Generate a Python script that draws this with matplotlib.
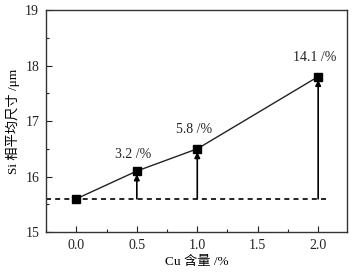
import matplotlib.pyplot as plt
from matplotlib.ticker import MultipleLocator

plt.rcParams['font.family'] = ['Liberation Serif', 'Noto Sans CJK SC']

cu = [0.0, 0.5, 1.0, 2.0]
size = [15.6, 16.1, 16.5, 17.8]
labels = ['3.2 /%', '5.8 /%', '14.1 /%']
label_y = [16.4, 16.85, 18.15]
base = 15.6

fig = plt.figure(figsize=(3.55, 2.77), dpi=100)
ax = fig.add_axes([0.13, 0.162, 0.848, 0.802])

ax.plot(cu, size, color='#222222', lw=1.0, marker='s', ms=5.5, mfc='black', mec='black', zorder=3)
ax.plot([-0.25, 2.1], [base, base], color='black', lw=1.2, ls=(0, (3, 2.5)))

for x, y in zip(cu[1:], size[1:]):
    ax.annotate('', xy=(x, y - 0.06), xytext=(x, base),
                arrowprops=dict(arrowstyle='-|>', color='black', lw=1.2, mutation_scale=8,
                                shrinkA=0, shrinkB=0))

for x, y, t in zip(cu[1:], label_y, labels):
    ax.text(x - 0.03, y, t, ha='center', va='center', fontsize=10, color='#222222')

ax.set_xlim(-0.25, 2.24)
ax.set_ylim(15, 19)
ax.xaxis.set_major_locator(MultipleLocator(0.5))
ax.xaxis.set_minor_locator(MultipleLocator(0.25))
ax.yaxis.set_major_locator(MultipleLocator(1))
ax.yaxis.set_minor_locator(MultipleLocator(0.5))
ax.set_xticks([0, 0.5, 1.0, 1.5, 2.0])
ax.set_xticklabels(['0.0', '0.5', '1.0', '1.5', '2.0'])
ax.tick_params(which='both', direction='in', labelsize=10, colors='#222222')
ax.tick_params(which='major', length=4, width=0.8, pad=5)
ax.tick_params(which='minor', length=2, width=0.8)
for s in ax.spines.values():
    s.set_linewidth(1.0)
    s.set_color('#333333')

ax.set_xlabel('Cu 含量 /%', fontsize=9.5, labelpad=3)
ax.set_ylabel('Si 相平均尺寸 /μm', fontsize=9.5, labelpad=4)

fig.savefig('out.png', dpi=100)
